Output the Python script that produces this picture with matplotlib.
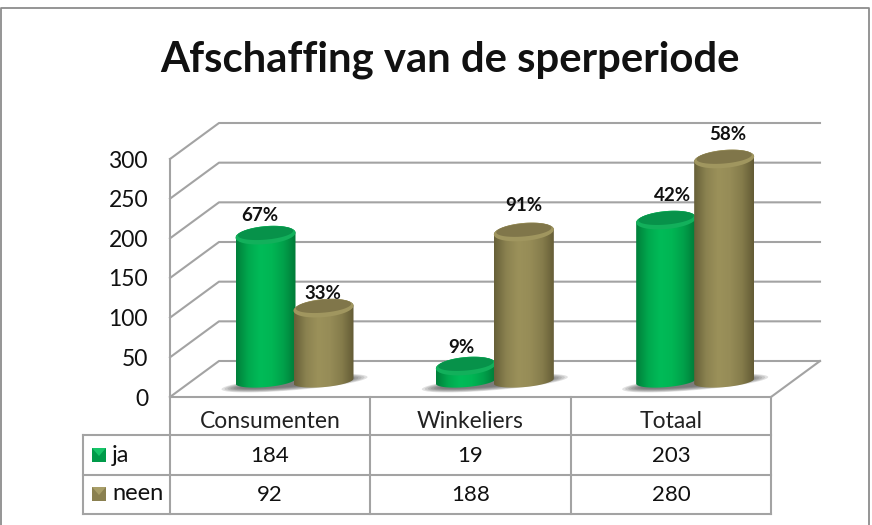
#!/usr/bin/env python3
import numpy as np
import matplotlib
matplotlib.use("Agg")
import matplotlib.pyplot as plt
from matplotlib.colors import LinearSegmentedColormap
from matplotlib.patches import Polygon, Rectangle

categories = ["Consumenten", "Winkeliers", "Totaal"]
ja = [184, 19, 203]
neen = [92, 188, 280]
ja_pct = ["67%", "9%", "42%"]
neen_pct = ["33%", "91%", "58%"]
y_ticks = [0, 50, 100, 150, 200, 250, 300]

W, H = 872, 525
GRID = "#a3a3a3"
LW = 1.5

plt.rcParams["font.family"] = ["Lato", "DejaVu Sans"]

fig = plt.figure(figsize=(W / 100, H / 100), dpi=100)

# overlay in pixels for the frame and the data table
page = fig.add_axes([0, 0, 1, 1])
page.set_xlim(0, W)
page.set_ylim(H, 0)
page.axis("off")

# front plane of the 3D box: x in categories, y in values
ax = fig.add_axes([170 / W, 1 - 397 / H, 601 / W, 238 / H])
ax.patch.set_alpha(0)
ax.axis("off")

px_x = 3 / 601
px_y = 300 / 238
depth_x = 49 * px_x
depth_y = 36 * px_y

# walls and floor
for t in y_ticks:
    ax.plot([0, depth_x, 3 + depth_x], [t, t + depth_y, t + depth_y], color=GRID, lw=LW, zorder=1, clip_on=False)
    ax.text(-22 * px_x, t - 2 * px_y, str(t), ha="right", va="center", fontsize=16.5, color="#111111")
ax.plot([0, 0], [0, 300], color=GRID, lw=LW, zorder=1, clip_on=False)
ax.plot([3, 3 + depth_x], [0, depth_y], color=GRID, lw=LW, zorder=1, clip_on=False)

green_cm = LinearSegmentedColormap.from_list("g", ["#007f3a", "#00a84e", "#00bb58", "#00b654", "#00a04a", "#007a38"])
tan_cm = LinearSegmentedColormap.from_list("t", ["#676038", "#8b8250", "#9b915a", "#968c57", "#857c4b", "#635b35"])
green_top = ("#12b05b", "#07924a")
tan_top = ("#a0965f", "#80764a")

half_w = 30 * px_x
half_h = 9 * px_y
foot_h = 6 * px_y
skew = 2.5 * px_y / half_w
base = 20  # centre of the cylinder foot, in value units
theta = np.linspace(0, 2 * np.pi, 120)


def ell(cx, cy, a, b):
    return np.column_stack([cx + a * np.cos(theta), cy + b * np.sin(theta) + skew * a * np.cos(theta)])


def cylinder(cx, value, cmap, top_cols, z):
    top = base + value
    upper = np.linspace(0, np.pi, 60)
    lower = np.linspace(np.pi, 2 * np.pi, 60)
    outline = np.vstack([
        np.column_stack([cx + half_w * np.cos(upper), top + half_h * np.sin(upper) + skew * half_w * np.cos(upper)]),
        np.column_stack([cx + half_w * np.cos(lower), base + foot_h * np.sin(lower) + skew * half_w * np.cos(lower)]),
    ])
    im = ax.imshow(np.linspace(0, 1, 128).reshape(1, -1), cmap=cmap, aspect="auto", zorder=z,
                   extent=[cx - half_w, cx + half_w, base - 2 * half_h, top + 2 * half_h])
    im.set_clip_box(fig.bbox)
    im.set_clip_path(Polygon(outline, transform=ax.transData))
    ax.add_patch(Polygon(ell(cx, top, half_w, half_h), fc=top_cols[0], ec="none", zorder=z + 0.1, clip_on=False))
    ax.add_patch(Polygon(ell(cx, top + 2 * px_y, half_w * 0.92, half_h * 0.72), fc=top_cols[1], ec="none",
                         zorder=z + 0.2, clip_on=False))


offset = 29 * px_x
mid = 124.5 * px_x
for i in range(len(categories)):
    c = i + mid
    # soft shadow under the pair
    for k in range(7):
        ax.add_patch(Polygon(ell(c, base - 2 * px_y, (73 - 3 * k) * px_x, (7 - 0.6 * k) * px_y),
                             fc="#4d4d4d", ec="none", alpha=0.17, zorder=2, clip_on=False))
    cylinder(c - offset, ja[i], green_cm, green_top, 3)
    cylinder(c + offset, neen[i], tan_cm, tan_top, 4)

# imshow resets the limits, so they are set after the bars
ax.set_xlim(0, 3)
ax.set_ylim(0, 300)

# data labels, nudged by hand like the original
ja_nudge = [(-6, 20), (-4, 19), (6, 25)]
neen_nudge = [(-1, 15), (0, 26), (4, 25)]
for i in range(len(categories)):
    c = i + mid
    ax.annotate(ja_pct[i], (c - offset, base + ja[i]), xytext=ja_nudge[i], textcoords="offset pixels",
                ha="center", va="center", fontsize=13.5, fontweight="bold", color="#111111", zorder=6)
    ax.annotate(neen_pct[i], (c + offset, base + neen[i]), xytext=neen_nudge[i], textcoords="offset pixels",
                ha="center", va="center", fontsize=13.5, fontweight="bold", color="#111111", zorder=6)

page.text(450, 60, "Afschaffing van de sperperiode", ha="center", va="center",
          fontsize=30.2, fontweight="bold", color="#111111")

# frame
page.plot([1, 1, 869, 869], [H, 8, 8, H], color="#8c8c8c", lw=1.3)

# data table
col_x = [83, 170, 370, 571, 771]
row_y = [397, 435, 475, 514]
page.plot([170, 771], [row_y[0]] * 2, color=GRID, lw=LW)
for y in row_y[1:]:
    page.plot([col_x[0], 771], [y, y], color=GRID, lw=LW)
page.plot([col_x[0]] * 2, [row_y[1], row_y[3]], color=GRID, lw=LW)
for x in col_x[1:]:
    page.plot([x, x], [row_y[0], row_y[3]], color=GRID, lw=LW)

for i in range(len(categories)):
    cx = (col_x[i + 1] + col_x[i + 2]) / 2
    page.text(cx, 422, categories[i], ha="center", va="center", fontsize=16.5, color="#222222")
    page.text(cx, 456, str(ja[i]), ha="center", va="center", fontsize=16, color="#111111")
    page.text(cx, 495, str(neen[i]), ha="center", va="center", fontsize=16, color="#111111")

for name, y, face, light in [("ja", 448, "#009a49", "#16c468"), ("neen", 487, "#8a8050", "#a89e68")]:
    page.add_patch(Rectangle((92, y), 14, 14, fc=face, ec="none"))
    page.add_patch(Polygon([(92, y), (106, y), (99, y + 8)], fc=light, ec="none"))
    page.text(112, y + 7, name, ha="left", va="center", fontsize=17, color="#111111")

fig.savefig("out.png", dpi=100)
